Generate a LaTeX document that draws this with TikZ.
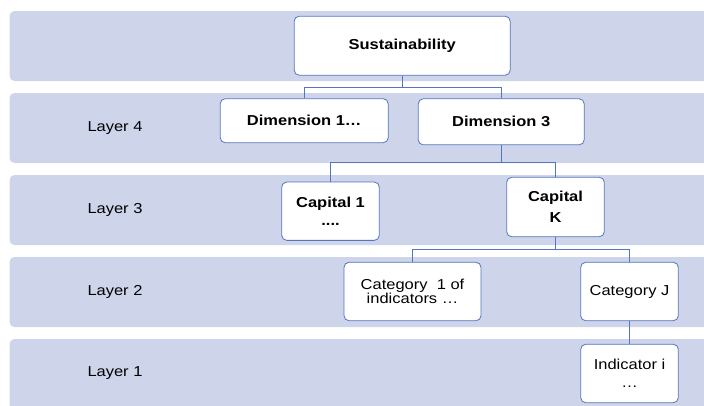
\documentclass[tikz,border=0pt]{standalone}
\usepackage{fontspec}
\setmainfont[FakeStretch=1.145]{Liberation Sans}
\usepackage{tikz}
\usetikzlibrary{calc}
\definecolor{bandfill}{RGB}{206,213,234}
\definecolor{boxline}{RGB}{84,118,190}
\tikzset{
	band/.style={fill=bandfill, draw=none, rounded corners=5pt},
	layerlabel/.style={font=\fontsize{14.4}{15}\selectfont, anchor=center},
	hbox/.style={draw=boxline, fill=white, line width=0.8pt, rounded corners=5pt, inner sep=0pt, align=center, font=\fontsize{14.4}{15}\selectfont},
	hboxb/.style={hbox, font=\fontsize{14.4}{15}\selectfont\bfseries},
	link/.style={draw=boxline, line width=0.8pt}
}

\begin{document}
\begin{tikzpicture}[x=1pt, y=-1pt]
		%%%%% START %%%%%
		\clip (0, 0) rectangle (704, 405);
		
		\draw[band] (9.5, 11) rectangle (720, 81);
		\draw[band] (9.5, 93) rectangle (720, 163);
		\draw[band] (9.5, 175) rectangle (720, 245);
		\draw[band] (9.5, 257) rectangle (720, 327);
		\draw[band] (9.5, 339) rectangle (720, 420);
		
		\node[layerlabel] (l4) at (115, 128) {Layer 4};
		\node[layerlabel] (l3) at (115, 210) {Layer 3};
		\node[layerlabel] (l2) at (115, 292) {Layer 2};
		\node[layerlabel] (l1) at (115, 373) {Layer 1};
		
		\node[hboxb, minimum width=216, minimum height=59] (sus) at (402.2, 45.7) {Sustainability};
		\node[hboxb, minimum width=168, minimum height=44] (dim1) at (304.2, 120.7) {Dimension 1\dots};
		\node[hboxb, minimum width=166, minimum height=46] (dim3) at (501.2, 121.8) {Dimension 3};
		\node[hboxb, minimum width=97.6, minimum height=58.3] (cap1) at (330.5, 211.2) {Capital 1\\[2.5pt]....};
		\node[hboxb, minimum width=97.6, minimum height=59.4] (capk) at (555.5, 207) {Capital\\[5.5pt]K};
		\node[hbox, minimum width=137, minimum height=58.4] (cat1) at (412.5, 291.5) {Category~~1 of\\[-0.5pt]indicators \dots};
		\node[hbox, minimum width=97.6, minimum height=58.4] (catj) at (629.5, 291.5) {Category J};
		\node[hbox, minimum width=97.6, minimum height=58.4] (ind) at (629.5, 373.5) {Indicator i\\[3pt]\dots};
		
		\coordinate (j1) at (402.2, 87.3);
		\draw[link] (sus.south) -- (j1) -| (dim1.north);
		\draw[link] (j1) -| (dim3.north);
		
		\coordinate (j2) at (501.2, 162.7);
		\draw[link] (dim3.south) -- (j2) -| (cap1.north);
		\draw[link] (j2) -| (capk.north);
		
		\coordinate (j3) at (555.5, 249.3);
		\draw[link] (capk.south) -- (j3) -| (cat1.north);
		\draw[link] (j3) -| (catj.north);
		
		\draw[link] (catj.south) -- (ind.north);
		%%%%% END %%%%%
	\end{tikzpicture}
\end{document}
